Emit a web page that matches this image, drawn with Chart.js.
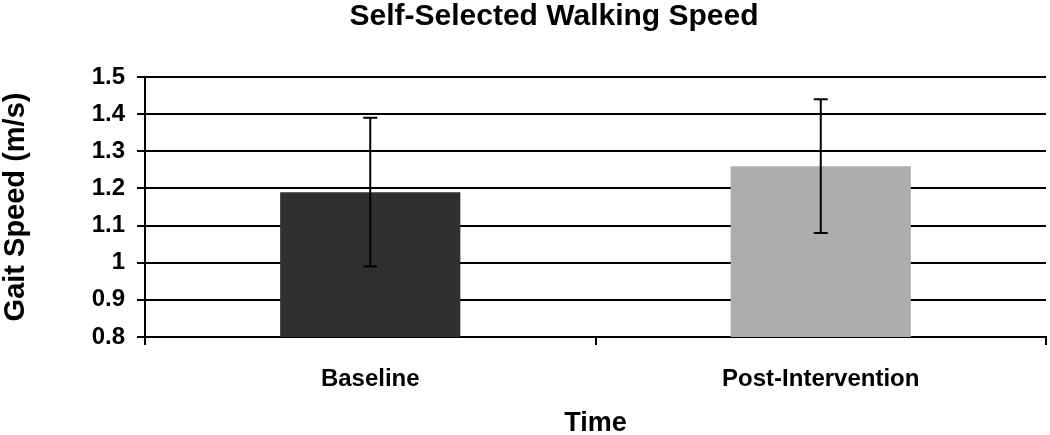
<!DOCTYPE html>
<html>
<head>
<meta charset="utf-8">
<script src="https://cdn.jsdelivr.net/npm/chart.js@4.4.1/dist/chart.umd.min.js"></script>
<style>
  html, body { margin: 0; padding: 0; background: #fff; }
  #wrap { width: 1050px; height: 435px; }
</style>
</head>
<body>
<div id="wrap"><canvas id="speed_chart"></canvas></div>
<script>
// Chart data
const chartTitle = "Self-Selected Walking Speed";
const categories = ["Baseline", "Post-Intervention"];
const meanSpeed = [1.19, 1.26];
const errorLow = [0.99, 1.08];
const errorHigh = [1.39, 1.44];
const barColors = ["#2f2f2f", "#adadad"];
const yTicks = [0.8, 0.9, 1, 1.1, 1.2, 1.3, 1.4, 1.5];

const FONT = "'Liberation Sans', Arial, sans-serif";

// Whisker lines on top of the bars
const errorBars = {
  id: "errorBars",
  afterDatasetsDraw(chart) {
    const { ctx, scales: { y } } = chart;
    const meta = chart.getDatasetMeta(0);
    ctx.save();
    ctx.strokeStyle = "#000";
    ctx.lineWidth = 2;
    meta.data.forEach((bar, i) => {
      const x = bar.x;
      const top = y.getPixelForValue(errorHigh[i]);
      const bottom = y.getPixelForValue(errorLow[i]);
      ctx.beginPath();
      ctx.moveTo(x, top);
      ctx.lineTo(x, bottom);
      ctx.moveTo(x - 7, top);
      ctx.lineTo(x + 7, top);
      ctx.moveTo(x - 7, bottom);
      ctx.lineTo(x + 7, bottom);
      ctx.stroke();
    });
    ctx.restore();
  },
};

// Title sits a bit right of the canvas centre in the original
const topTitle = {
  id: "topTitle",
  afterDraw(chart) {
    const { ctx } = chart;
    ctx.save();
    ctx.fillStyle = "#000";
    ctx.font = "bold 30px " + FONT;
    ctx.textAlign = "center";
    ctx.textBaseline = "alphabetic";
    ctx.fillText(chartTitle, 554, 25);
    ctx.restore();
  },
};

document.addEventListener("DOMContentLoaded", () => {
  const ctx = document.getElementById("speed_chart").getContext("2d");

  new Chart(ctx, {
    type: "bar",
    data: {
      labels: categories,
      datasets: [
        {
          label: "Gait Speed",
          data: meanSpeed,
          backgroundColor: barColors,
          borderWidth: 0,
          barPercentage: 0.4,
          categoryPercentage: 1,
        },
      ],
    },
    options: {
      responsive: true,
      maintainAspectRatio: false,
      animation: false,
      layout: { padding: { left: 0, right: 4, top: 77, bottom: 0 } },
      plugins: {
        legend: { display: false },
        tooltip: { enabled: false },
        title: { display: false },
      },
      scales: {
        x: {
          offset: true,
          grid: {
            offset: true,
            drawOnChartArea: false,
            drawTicks: true,
            tickLength: 8,
            color: "#000",
            lineWidth: 2,
          },
          border: { display: true, color: "#000", width: 2 },
          ticks: {
            color: "#000",
            padding: 22,
            font: { family: FONT, size: 24, weight: "bold", lineHeight: 1 },
          },
          title: {
            display: true,
            text: "Time",
            color: "#000",
            padding: { top: 0, bottom: 0 },
            font: { family: FONT, size: 27, weight: "bold", lineHeight: 0.85 },
          },
          afterFit(scale) {
            scale.height = 98;
          },
        },
        y: {
          min: 0.8,
          max: 1.5,
          afterBuildTicks(scale) {
            scale.ticks = yTicks.map((v) => ({ value: v }));
          },
          grid: {
            color: "#000",
            lineWidth: 2,
            drawTicks: true,
            tickLength: 8,
          },
          border: { display: true, color: "#000", width: 2 },
          ticks: {
            color: "#000",
            padding: 12,
            font: { family: FONT, size: 24, weight: "bold", lineHeight: 1 },
            callback: (v) => String(Math.round(v * 10) / 10),
          },
          title: {
            display: true,
            text: "Gait Speed (m/s)",
            color: "#000",
            padding: { top: 1, bottom: 0 },
            font: { family: FONT, size: 29, weight: "bold", lineHeight: 1 },
          },
          afterFit(scale) {
            scale.width = 145;
          },
        },
      },
    },
    plugins: [errorBars, topTitle],
  });
});
</script>
</body>
</html>
